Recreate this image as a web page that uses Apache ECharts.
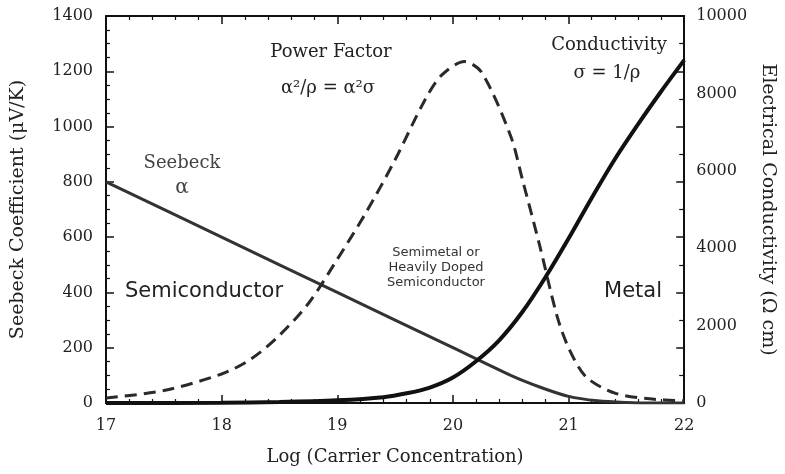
<!DOCTYPE html>
<html>
<head>
<meta charset="utf-8">
<script src="https://cdn.jsdelivr.net/npm/echarts@6/dist/echarts.min.js"></script>
<style>
html,body{margin:0;padding:0;background:#fff;}
#chart{width:785px;height:474px;}
</style>
</head>
<body>
<div id="chart"></div>
<script>
// ---- data ----
var xTicks = [17, 18, 19, 20, 21, 22];
var leftTicks = [0, 200, 400, 600, 800, 1000, 1200, 1400];
var rightTicks = [0, 2000, 4000, 6000, 8000, 10000];

var seebeckX = [17, 18, 19, 20, 20.5, 20.75, 21, 21.25, 21.5, 21.75, 22];
var seebeckY = [800, 600, 400, 200, 100, 58, 24, 8, 2, 0, 0];

var powerX = [17, 17.5, 18, 18.25, 18.5, 18.75, 19, 19.25, 19.5, 19.75, 19.9, 20.1, 20.25, 20.5, 20.6, 20.75, 20.9, 21, 21.15, 21.4, 21.7, 22];
var powerY = [18, 45, 105, 158, 245, 360, 520, 690, 880, 1090, 1185, 1235, 1195, 965, 810, 570, 315, 200, 95, 36, 15, 8];

var condX = [17, 18, 18.5, 19, 19.4, 19.6, 19.8, 20, 20.2, 20.4, 20.6, 20.8, 21, 21.2, 21.4, 21.6, 21.8, 22];
var condY = [0, 5, 25, 70, 150, 250, 400, 660, 1080, 1620, 2350, 3250, 4250, 5300, 6300, 7200, 8050, 8860];

function zip(xs, ys) { return xs.map(function (x, i) { return [x, ys[i]]; }); }
function plain(v) { return String(v); }

var SERIF = '"DejaVu Serif", "Liberation Serif", serif';
var SANS = '"DejaVu Sans", "Liberation Sans", sans-serif';
var INK = '#222';

var chart = echarts.init(document.getElementById('chart'), null, { renderer: 'canvas' });

function xAxisBase(pos, showLabel) {
  return {
    type: 'value', position: pos,
    min: xTicks[0], max: xTicks[xTicks.length - 1], interval: 1,
    axisLine: { show: true, onZero: false, lineStyle: { color: '#111', width: 2 } },
    axisTick: { show: true, inside: true, length: 8, lineStyle: { color: '#111', width: 1.5 } },
    minorTick: { show: true, splitNumber: 5, length: 4, lineStyle: { color: '#111', width: 1.2 } },
    splitLine: { show: false },
    axisLabel: { show: showLabel, color: INK, fontFamily: SERIF, fontSize: 16, margin: 15, formatter: plain }
  };
}

var option = {
  backgroundColor: '#fff',
  animation: false,
  grid: { left: 106, right: 98, top: 16, bottom: 71, containLabel: false },
  xAxis: [
    Object.assign(xAxisBase('bottom', true), {
      name: 'Log (Carrier Concentration)', nameLocation: 'middle', nameGap: 45,
      nameTextStyle: { color: INK, fontFamily: SERIF, fontSize: 18 }
    }),
    xAxisBase('top', false)
  ],
  yAxis: [
    {
      type: 'value', position: 'left',
      min: leftTicks[0], max: leftTicks[leftTicks.length - 1], interval: 200,
      name: 'Seebeck Coefficient (\u03bcV/K)', nameLocation: 'middle', nameGap: 78, nameRotate: 90,
      nameTextStyle: { color: INK, fontFamily: SERIF, fontSize: 19 },
      axisLine: { show: true, lineStyle: { color: '#111', width: 2 } },
      axisTick: { show: true, inside: true, length: 8, lineStyle: { color: '#111', width: 1.5 } },
      minorTick: { show: true, splitNumber: 4, length: 4, lineStyle: { color: '#111', width: 1.2 } },
      splitLine: { show: false },
      axisLabel: { color: INK, fontFamily: SERIF, fontSize: 16, margin: 13, formatter: plain }
    },
    {
      type: 'value', position: 'right',
      min: rightTicks[0], max: rightTicks[rightTicks.length - 1], interval: 2000,
      name: 'Electrical Conductivity (\u03a9 cm)', nameLocation: 'middle', nameGap: 72, nameRotate: -90,
      nameTextStyle: { color: INK, fontFamily: SERIF, fontSize: 19 },
      axisLine: { show: true, lineStyle: { color: '#111', width: 2 } },
      axisTick: { show: false },
      splitLine: { show: false },
      axisLabel: { color: INK, fontFamily: SERIF, fontSize: 16, margin: 12, formatter: plain }
    },
    {
      type: 'value', position: 'right',
      min: leftTicks[0], max: leftTicks[leftTicks.length - 1], interval: 200,
      axisLine: { show: false },
      axisTick: { show: true, inside: true, length: 8, lineStyle: { color: '#111', width: 1.5 } },
      minorTick: { show: true, splitNumber: 2, length: 5, lineStyle: { color: '#111', width: 1.2 } },
      splitLine: { show: false },
      axisLabel: { show: false }
    }
  ],
  series: [
    {
      name: 'Seebeck', type: 'line', xAxisIndex: 0, yAxisIndex: 0,
      data: zip(seebeckX, seebeckY), smooth: 0.3, symbol: 'none',
      lineStyle: { color: '#333', width: 3 }, z: 3
    },
    {
      name: 'Power Factor', type: 'line', xAxisIndex: 0, yAxisIndex: 0,
      data: zip(powerX, powerY), smooth: 0.3, symbol: 'none',
      lineStyle: { color: '#2a2a2a', width: 3, type: [12, 7] }, z: 3
    },
    {
      name: 'Conductivity', type: 'line', xAxisIndex: 0, yAxisIndex: 1,
      data: zip(condX, condY), smooth: 0.3, symbol: 'none',
      lineStyle: { color: '#111', width: 4 }, z: 4
    }
  ],
  graphic: [
    { type: 'text', x: 331, y: 52, style: { text: 'Power Factor', font: '18px ' + SERIF, fill: INK, align: 'center', verticalAlign: 'middle' } },
    { type: 'text', x: 328, y: 88, style: { text: '\u03b1\u00b2/\u03c1 = \u03b1\u00b2\u03c3', font: '18px ' + SERIF, fill: INK, align: 'center', verticalAlign: 'middle' } },
    { type: 'text', x: 609, y: 45, style: { text: 'Conductivity', font: '18px ' + SERIF, fill: INK, align: 'center', verticalAlign: 'middle' } },
    { type: 'text', x: 607, y: 73, style: { text: '\u03c3 = 1/\u03c1', font: '18px ' + SERIF, fill: INK, align: 'center', verticalAlign: 'middle' } },
    { type: 'text', x: 182, y: 163, style: { text: 'Seebeck', font: '18px ' + SERIF, fill: '#444', align: 'center', verticalAlign: 'middle' } },
    { type: 'text', x: 182, y: 188, style: { text: '\u03b1', font: '20px ' + SERIF, fill: '#444', align: 'center', verticalAlign: 'middle' } },
    { type: 'text', x: 204, y: 292, style: { text: 'Semiconductor', font: '21px ' + SANS, fill: INK, align: 'center', verticalAlign: 'middle' } },
    { type: 'text', x: 633, y: 292, style: { text: 'Metal', font: '21px ' + SANS, fill: INK, align: 'center', verticalAlign: 'middle' } },
    { type: 'text', x: 436, y: 268, style: { text: 'Semimetal or\nHeavily Doped\nSemiconductor', font: '13px ' + SANS, fill: '#333', align: 'center', verticalAlign: 'middle', lineHeight: 15 } }
  ]
};
chart.setOption(option);
</script>
</body>
</html>
